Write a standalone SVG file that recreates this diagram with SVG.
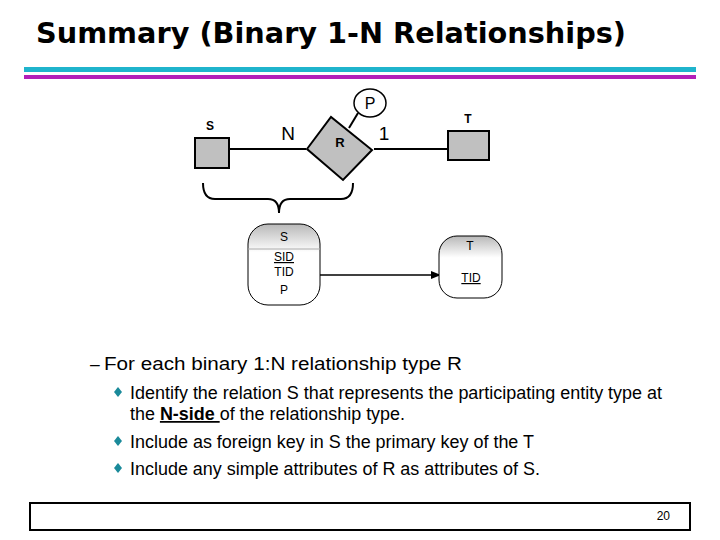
<svg xmlns="http://www.w3.org/2000/svg" width="720" height="540" viewBox="0 0 720 540">
<style>
.a{font-family:"Liberation Sans",Arial,sans-serif}
.ln{stroke:#000;stroke-width:2;fill:none}
.ent{fill:#c0c0c0;stroke:#000;stroke-width:2}
.body{font-family:"Liberation Sans",Arial,sans-serif;font-size:17.5px;fill:#000}
.bul{fill:#1a8a9a}
</style>
<defs>
<linearGradient id="g" x1="0" y1="0" x2="0" y2="1"><stop offset="0" stop-color="#b8b8b8"/><stop offset="0.35" stop-color="#fff"/><stop offset="1" stop-color="#fff"/></linearGradient>
<marker id="ar" markerWidth="10" markerHeight="8" refX="9" refY="4" orient="auto" markerUnits="userSpaceOnUse"><path d="M0,0 L10,4 L0,8z" fill="#000"/></marker>
</defs>
<rect width="720" height="540" fill="#fff"/>
<text x="36" y="43" font-family="'DejaVu Sans',sans-serif" font-weight="bold" font-size="28" textLength="590" lengthAdjust="spacingAndGlyphs">Summary (Binary 1-N Relationships)</text>
<rect x="24" y="67" width="672" height="5" fill="#1fb4cc"/>
<rect x="24" y="75" width="672" height="4" fill="#b21fb8"/>
<g id="connectors">
<line class="ln" x1="229" y1="149" x2="306" y2="149"/>
<line class="ln" x1="374" y1="149" x2="448" y2="149"/>
<line class="ln" x1="358" y1="113" x2="349" y2="128"/>
<path class="ln" d="M203,183 Q203,199 215,199 L268,199 Q279,199 279,213 Q279,199 290,199 L341,199 Q353,199 353,183"/>
<line x1="285" y1="275" x2="440" y2="275" stroke="#000" stroke-width="1.5" marker-end="url(#ar)"/>
</g>
<g id="S">
<rect class="ent" x="195" y="138" width="34" height="30"/>
<text class="a" x="210" y="130" font-size="12" font-weight="bold" text-anchor="middle">S</text>
</g>
<g id="labels">
<text class="a" x="288" y="140" font-size="19" text-anchor="middle">N</text>
<text class="a" x="384" y="140" font-size="19" text-anchor="middle">1</text>
</g>
<g id="R">
<polygon class="ent" points="307,149 331,117 372,150 343,180"/>
<text class="a" x="340" y="147" font-size="13" font-weight="bold" text-anchor="middle">R</text>
</g>
<g id="P">
<ellipse cx="370" cy="103" rx="16" ry="14" fill="#fff" stroke="#000" stroke-width="1.5"/>
<text class="a" x="370" y="109" font-size="16" text-anchor="middle">P</text>
</g>
<g id="T">
<rect class="ent" x="448" y="131" width="41" height="29"/>
<text class="a" x="468" y="123" font-size="12" font-weight="bold" text-anchor="middle">T</text>
</g>
<g id="tableS">
<rect x="248" y="224" width="72" height="81" rx="20" fill="url(#g)" stroke="#000" stroke-width="1"/>
<line x1="248" y1="249" x2="320" y2="249" stroke="#aaa" stroke-width="1"/>
<text class="a" x="284" y="241" font-size="12" text-anchor="middle">S</text>
<text class="a" x="284" y="261" font-size="12" text-anchor="middle" text-decoration="underline">SID</text>
<text class="a" x="284" y="276" font-size="12" text-anchor="middle">TID</text>
<text class="a" x="284" y="294" font-size="12" text-anchor="middle">P</text>
</g>
<g id="tableT">
<rect x="439" y="236" width="63" height="62" rx="18" fill="url(#g)" stroke="#000" stroke-width="1"/>
<text class="a" x="470" y="250" font-size="12" text-anchor="middle">T</text>
<text class="a" x="471" y="282" font-size="12" text-anchor="middle" text-decoration="underline">TID</text>
</g>
<text class="body" x="90" y="370" font-size="18">–</text>
<text class="body" x="104" y="370" font-size="18.5" textLength="358" lengthAdjust="spacingAndGlyphs">For each binary 1:N relationship type R</text>
<polygon class="bul" points="118,387 122,392 118,397 114,392"/>
<text class="body" x="130" y="399" textLength="532" lengthAdjust="spacingAndGlyphs">Identify the relation S that represents the participating entity type at</text>
<text class="body" x="130" y="420" textLength="275" lengthAdjust="spacingAndGlyphs">the <tspan font-weight="bold" text-decoration="underline">N-side </tspan>of the relationship type.</text>
<polygon class="bul" points="118,436 122,441 118,446 114,441"/>
<text class="body" x="130" y="448" textLength="404" lengthAdjust="spacingAndGlyphs">Include as foreign key in S the primary key of the T</text>
<polygon class="bul" points="118,463 122,468 118,473 114,468"/>
<text class="body" x="130" y="475" textLength="410" lengthAdjust="spacingAndGlyphs">Include any simple attributes of R as attributes of S.</text>
<rect x="30" y="503" width="660" height="27" fill="none" stroke="#000" stroke-width="2"/>
<text class="a" x="670" y="520" font-size="12" text-anchor="end">20</text>
</svg>
